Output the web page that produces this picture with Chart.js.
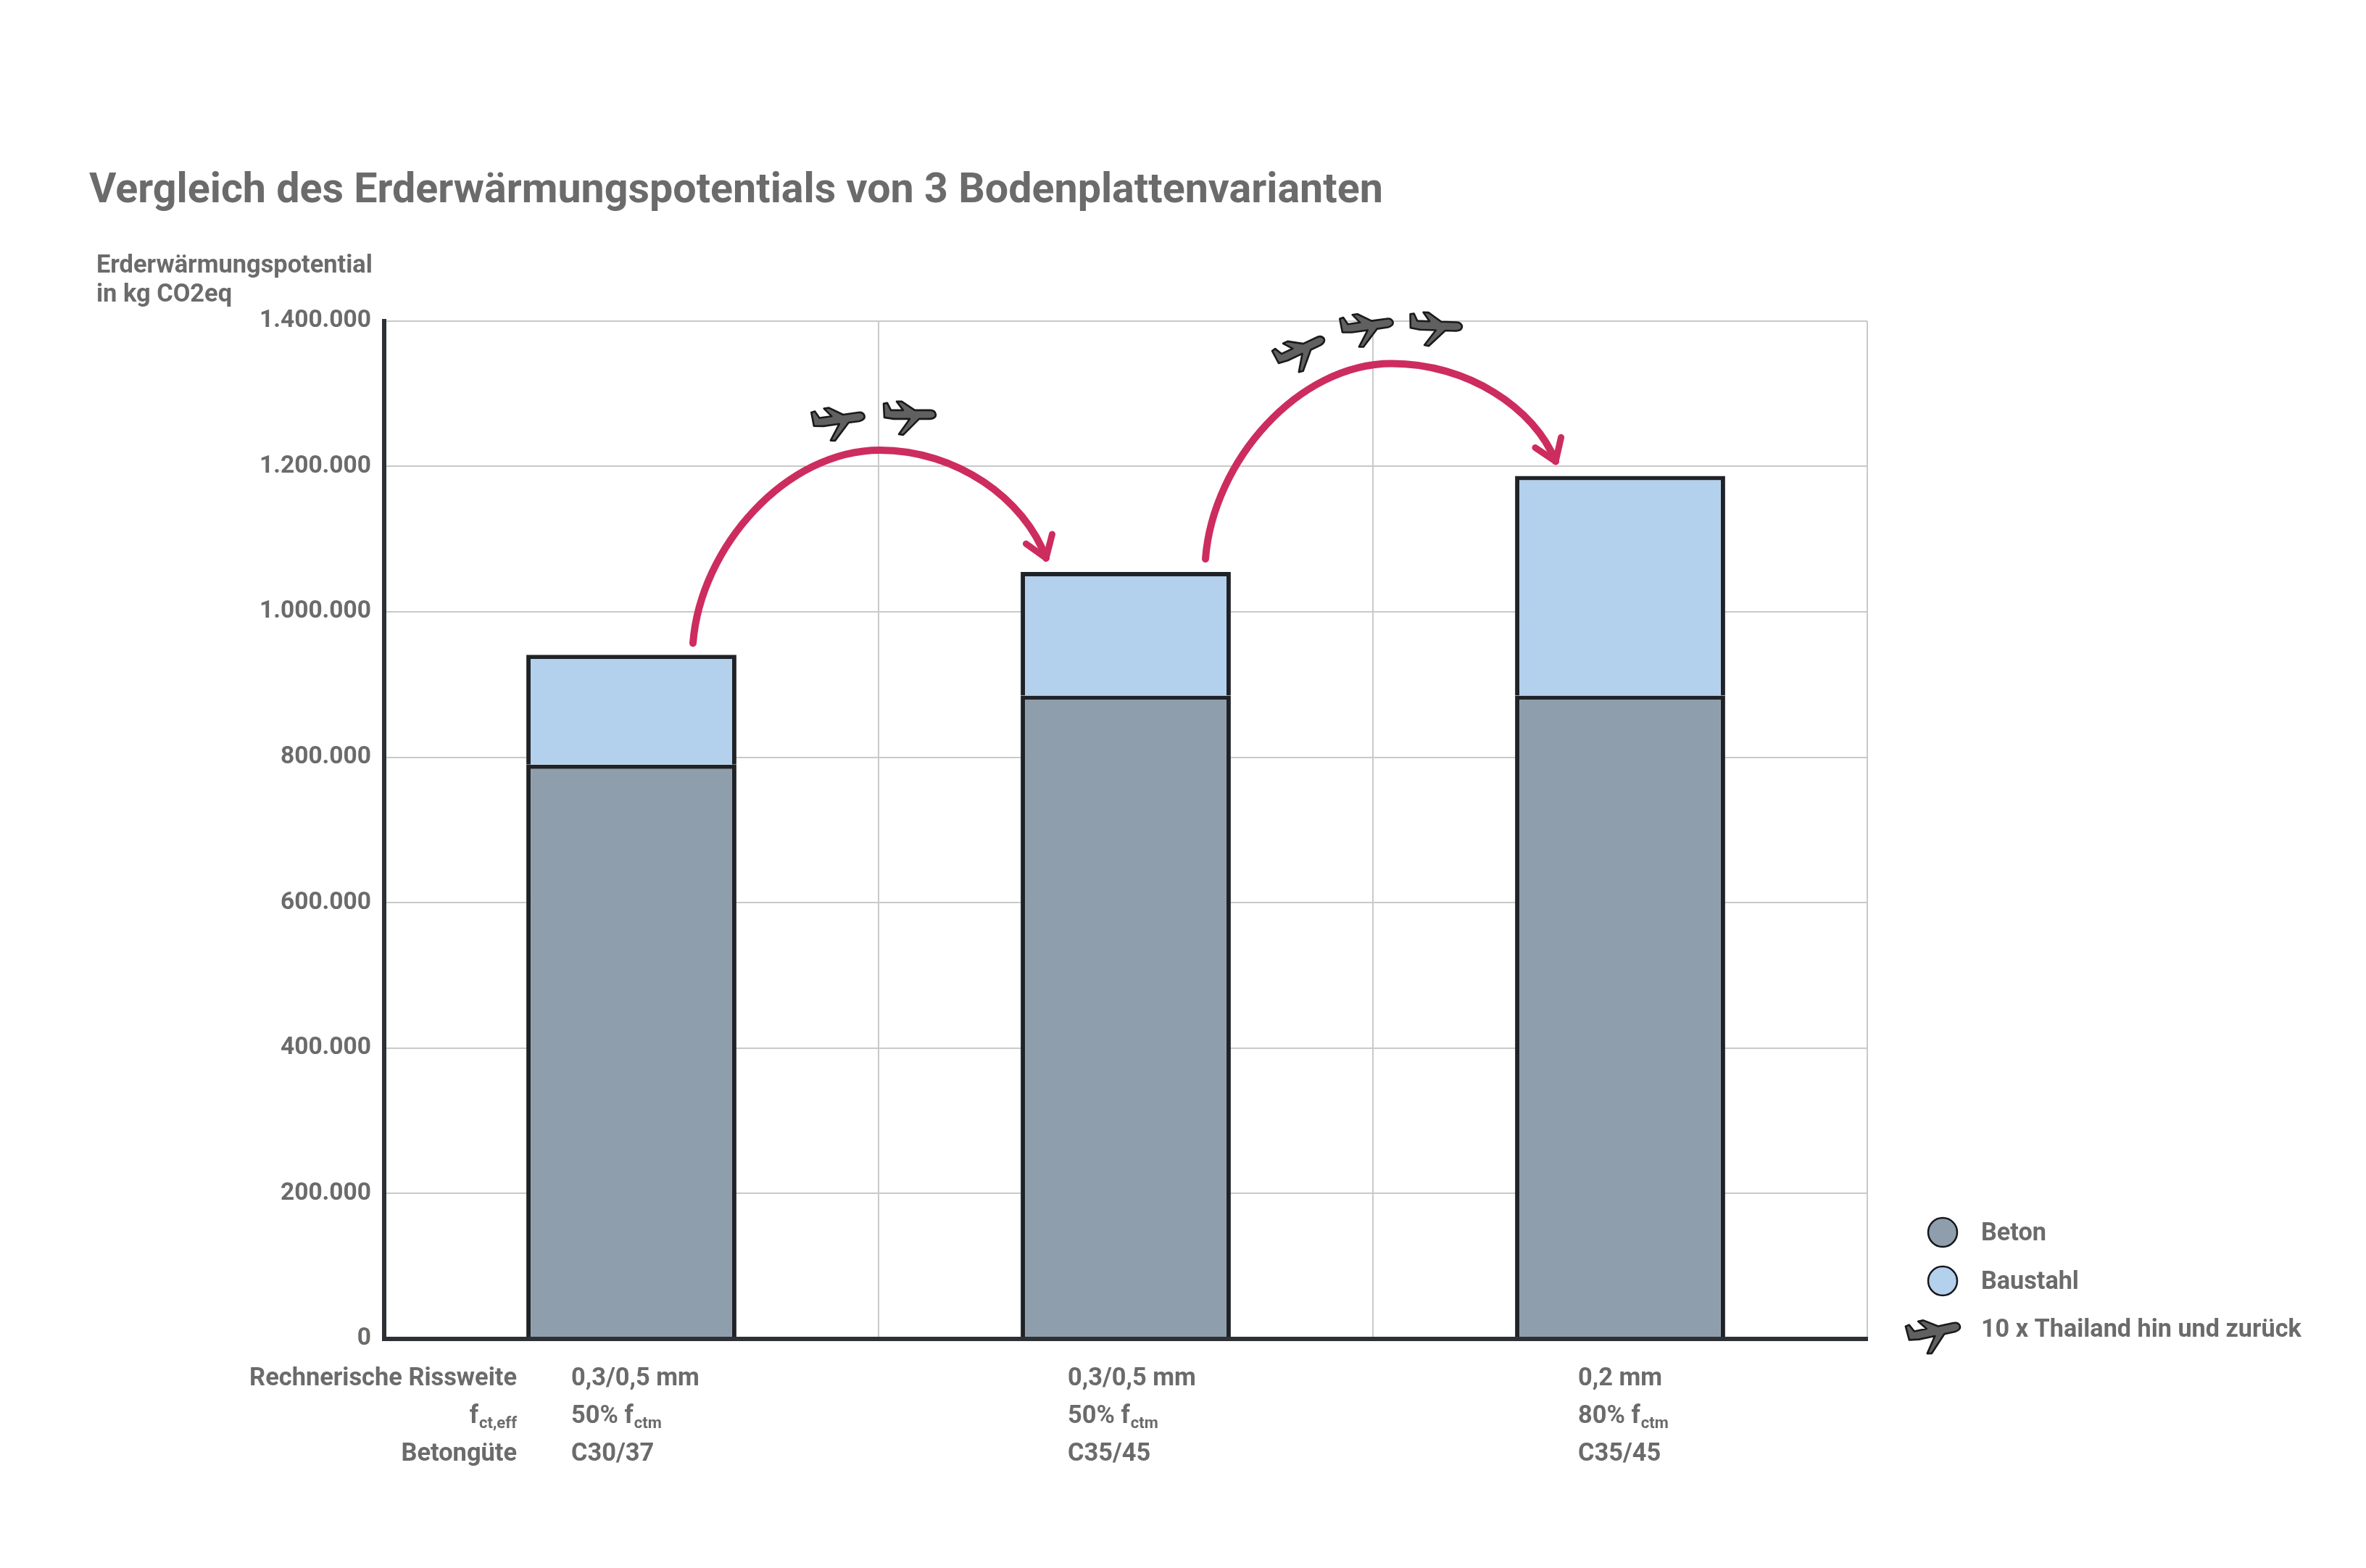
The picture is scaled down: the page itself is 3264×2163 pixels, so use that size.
<!DOCTYPE html>
<html>
<head>
<meta charset="utf-8">
<script src="https://cdn.jsdelivr.net/npm/chart.js@4.4.1/dist/chart.umd.min.js"></script>
<style>
html,body{margin:0;padding:0;background:#ffffff;}
#wrap{width:3264px;height:2163px;position:relative;background:#ffffff;}
canvas{display:block;}
</style>
</head>
<body>
<div id="wrap"><canvas id="c" width="3264" height="2163"></canvas></div>
<script>
// ---------- DATA ----------
const titleText = 'Vergleich des Erderwärmungspotentials von 3 Bodenplattenvarianten';
const yAxisTitle = ['Erderwärmungspotential', 'in kg CO2eq'];
const categories = ['Variante 1', 'Variante 2', 'Variante 3'];
const seriesNames = ['Beton', 'Baustahl'];
const betonValues = [790000, 885000, 885000];
const baustahlValues = [151000, 170000, 302000];
const yMin = 0;
const yMax = 1400000;
const yStep = 200000;
const rowHeaders = ['Rechnerische Rissweite', 'f', 'Betongüte'];
const rowHeaderSub = ['', 'ct,eff', ''];
const rissweite = ['0,3/0,5 mm', '0,3/0,5 mm', '0,2 mm'];
const fctPercent = ['50%', '50%', '80%'];
const fctSymbol = 'f';
const fctSub = 'ctm';
const betonguete = ['C30/37', 'C35/45', 'C35/45'];
const planesPerStep = [2, 3];
const planeLegendText = '10 x Thailand hin und zurück';

// ---------- STYLE / LAYOUT ----------
const FONT = 'Roboto, "Liberation Sans", Arial, sans-serif';
const TEXT = '#6b6b6b';
const BETON = '#8f9eac';
const STAHL = '#b3d0ec';
const EDGE = '#1f2227';
const ARROW = '#cd2c5e';
const colOffsets = [-83, -80, -58];
const arrowLayout = [
  {sx: 85, sy: -16, ex: 35, ey: -19, px: 343, rise: 168,
   planes: [[-57, -42, -8], [41, -49, 0]]},
  {sx: 110, sy: -18, ex: 56, ey: -20, px: 367, rise: 154,
   planes: [[-126, -19, -25], [-34, -52, -8], [61, -52, 2]]}
];

function fmt(v) { return String(v).replace(/\B(?=(\d{3})+(?!\d))/g, '.'); }

function drawPlane(ctx, x, y, rotDeg, s) {
  ctx.save();
  ctx.translate(x, y);
  ctx.rotate(rotDeg * Math.PI / 180);
  ctx.scale(s, s);
  ctx.beginPath();
  ctx.moveTo(36, 0);
  ctx.quadraticCurveTo(35, -6, 28, -6);
  ctx.lineTo(7, -6);
  ctx.lineTo(-11, -18);
  ctx.lineTo(-18, -18);
  ctx.lineTo(-9, -6);
  ctx.lineTo(-26, -6);
  ctx.lineTo(-31, -16);
  ctx.lineTo(-36, -15);
  ctx.lineTo(-35, 4);
  ctx.lineTo(-22, 6);
  ctx.lineTo(0, 6);
  ctx.lineTo(-15, 27);
  ctx.lineTo(-9, 28);
  ctx.lineTo(13, 6);
  ctx.lineTo(28, 6);
  ctx.quadraticCurveTo(36, 5, 36, 0);
  ctx.closePath();
  ctx.fillStyle = '#606060';
  ctx.fill();
  ctx.lineJoin = 'round';
  ctx.lineWidth = 2.6;
  ctx.strokeStyle = '#1a1a1a';
  ctx.stroke();
  ctx.restore();
}

function drawArrow(ctx, S, P, E) {
  ctx.save();
  ctx.strokeStyle = ARROW;
  ctx.lineWidth = 10;
  ctx.lineCap = 'round';
  ctx.lineJoin = 'round';
  const c1 = {x: S.x + 0.04 * (P.x - S.x), y: S.y - 0.5 * (S.y - P.y)};
  const c2 = {x: P.x - 0.5 * (P.x - S.x), y: P.y};
  const c3 = {x: P.x + 0.46 * (E.x - P.x), y: P.y};
  const c4 = {x: E.x - 0.13 * (E.x - P.x), y: E.y - 0.55 * (E.y - P.y)};
  ctx.beginPath();
  ctx.moveTo(S.x, S.y);
  ctx.bezierCurveTo(c1.x, c1.y, c2.x, c2.y, P.x, P.y);
  ctx.bezierCurveTo(c3.x, c3.y, c4.x, c4.y, E.x, E.y);
  ctx.stroke();
  ctx.lineWidth = 9;
  const back = Math.atan2(E.y - c4.y, E.x - c4.x) + Math.PI;
  [-0.6, 0.6].forEach(d => {
    ctx.beginPath();
    ctx.moveTo(E.x, E.y);
    ctx.lineTo(E.x + 34 * Math.cos(back + d), E.y + 34 * Math.sin(back + d));
    ctx.stroke();
  });
  ctx.restore();
}

const annotPlugin = {
  id: 'annot',
  afterDraw(chart) {
    const ctx = chart.ctx;
    const area = chart.chartArea;
    const xs = chart.scales.x;
    const topMeta = chart.getDatasetMeta(1);
    ctx.save();
    // y axis title
    ctx.fillStyle = TEXT;
    ctx.font = 'bold 34.4px ' + FONT;
    ctx.textAlign = 'left';
    ctx.textBaseline = 'middle';
    yAxisTitle.forEach((t, i) => ctx.fillText(t, area.left - 397, area.top - 75 + i * 40));

    // bottom table
    const rowY = [area.bottom + 55, area.bottom + 107, area.bottom + 159];
    const hx = area.left + 183;
    const mainF = 'bold 34.4px ' + FONT;
    const subF = 'bold 22px ' + FONT;
    rowHeaders.forEach((h, r) => {
      ctx.textAlign = 'left';
      ctx.font = subF;
      const ws = rowHeaderSub[r] ? ctx.measureText(rowHeaderSub[r]).width : 0;
      ctx.font = mainF;
      const wm = ctx.measureText(h).width;
      ctx.fillText(h, hx - ws - wm - (ws ? 1 : 0), rowY[r]);
      if (ws) { ctx.font = subF; ctx.fillText(rowHeaderSub[r], hx - ws, rowY[r] + 10); }
    });
    categories.forEach((c, i) => {
      const x = xs.getPixelForValue(i) + colOffsets[i];
      ctx.textAlign = 'left';
      ctx.font = mainF;
      ctx.fillText(rissweite[i], x, rowY[0]);
      const p = fctPercent[i] + ' ' + fctSymbol;
      ctx.fillText(p, x, rowY[1]);
      const wp = ctx.measureText(p).width;
      ctx.font = subF;
      ctx.fillText(fctSub, x + wp + 1, rowY[1] + 10);
      ctx.font = mainF;
      ctx.fillText(betonguete[i], x, rowY[2]);
    });

    // arrows and planes
    for (let k = 0; k < planesPerStep.length; k++) {
      const a = topMeta.data[k], b = topMeta.data[k + 1];
      const L = arrowLayout[k];
      const S = {x: a.x + L.sx, y: a.y + L.sy};
      const E = {x: b.x - b.width / 2 + L.ex, y: b.y + L.ey};
      const P = {x: a.x + L.px, y: b.y + L.ey - L.rise + 19};
      drawArrow(ctx, S, P, E);
      for (let n = 0; n < planesPerStep[k]; n++) {
        const pl = L.planes[n];
        drawPlane(ctx, P.x + pl[0], P.y + pl[1], pl[2], 1);
      }
    }

    // legend
    const lx = area.right + 104, ly = area.bottom - 147;
    const cols = [BETON, STAHL];
    ctx.font = 'bold 34.2px ' + FONT;
    seriesNames.forEach((s, i) => {
      const cy = ly + i * 67;
      ctx.beginPath();
      ctx.arc(lx, cy, 20, 0, Math.PI * 2);
      ctx.fillStyle = cols[i];
      ctx.fill();
      ctx.lineWidth = 2.5;
      ctx.strokeStyle = '#15171a';
      ctx.stroke();
      ctx.fillStyle = TEXT;
      ctx.textAlign = 'left';
      ctx.fillText(s, lx + 53, cy + 2);
    });
    drawPlane(ctx, lx - 12, ly + 137, -12, 1.02);
    ctx.fillStyle = TEXT;
    ctx.fillText(planeLegendText, lx + 53, ly + 135);
    ctx.restore();
  }
};

function build() {
  Chart.defaults.font.family = FONT;
  new Chart(document.getElementById('c'), {
    type: 'bar',
    data: {
      labels: categories,
      datasets: [
        {label: seriesNames[0], data: betonValues, backgroundColor: BETON, borderColor: EDGE,
         borderWidth: 6, borderSkipped: 'start', barPercentage: 0.425, categoryPercentage: 1},
        {label: seriesNames[1], data: baustahlValues, backgroundColor: STAHL, borderColor: EDGE,
         borderWidth: 6, borderSkipped: 'start', barPercentage: 0.425, categoryPercentage: 1}
      ]
    },
    options: {
      responsive: false,
      animation: false,
      devicePixelRatio: 1,
      layout: {padding: {left: 123, right: 688, top: 0, bottom: 316}},
      plugins: {
        legend: {display: false},
        tooltip: {enabled: false},
        title: {
          display: true, text: titleText, align: 'start', color: TEXT,
          font: {family: FONT, size: 57.4, weight: 'bold', lineHeight: 1.2},
          padding: {top: 230, bottom: 144}
        }
      },
      scales: {
        x: {
          stacked: true,
          grid: {offset: true, color: '#c9c9c9', lineWidth: 2, drawTicks: false},
          border: {display: true, color: '#2d3035', width: 6, z: 1},
          ticks: {display: false},
          afterFit: s => { s.height = 0; }
        },
        y: {
          stacked: true, min: yMin, max: yMax,
          grid: {color: '#c9c9c9', lineWidth: 2, drawTicks: false},
          border: {display: true, color: '#2d3035', width: 6, z: 1},
          ticks: {stepSize: yStep, padding: 18, color: TEXT,
                  font: {family: FONT, size: 33.5, weight: 'bold'},
                  callback: v => fmt(v)},
          afterFit: s => { s.width = 407; }
        }
      }
    },
    plugins: [annotPlugin]
  });
}

if (document.fonts && document.fonts.load) {
  Promise.all([document.fonts.load('bold 32px Roboto'), document.fonts.load('bold 58px Roboto')])
    .then(build, build);
} else { build(); }
</script>
</body>
</html>
